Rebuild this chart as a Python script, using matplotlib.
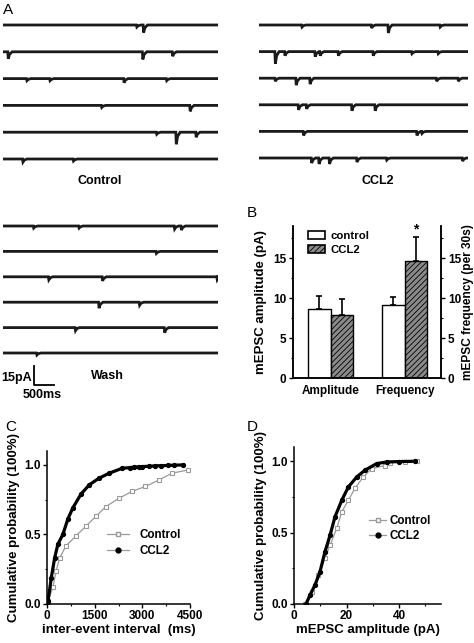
import matplotlib
matplotlib.use("Agg")
import matplotlib.pyplot as plt
from matplotlib.lines import Line2D
from matplotlib.patches import Patch

plt.rcParams['font.family'] = ['Liberation Sans', 'DejaVu Sans']
plt.rcParams['font.weight'] = 'bold'
plt.rcParams['axes.labelweight'] = 'bold'
plt.rcParams['axes.linewidth'] = 1.1
plt.rcParams['hatch.linewidth'] = 0.6

W, H = 474, 643

# ---- panel A: mEPSC events per trace row, (time s, amplitude pA)
trace_len = 5.4
control_events = [
    [(3.35, 1.6), (3.52, 6.0)],
    [(0.12, 5.5), (3.50, 6.0), (4.25, 3.5)],
    [(0.59, 1.6), (1.17, 1.6), (3.03, 3.2), (4.10, 1.6)],
    [(2.47, 1.6), (4.69, 4.7)],
    [(3.85, 1.6), (4.34, 9.5), (4.84, 4.0)],
    [(0.49, 2.4), (1.76, 1.6)],
]
ccl2_events = [
    [(1.10, 1.6), (2.90, 2.4), (3.33, 6.3), (4.67, 1.6)],
    [(0.41, 9.5), (0.66, 3.2), (1.44, 4.0), (1.57, 3.2), (2.04, 3.2), (2.94, 3.2), (3.94, 1.6), (4.62, 1.6)],
    [(0.41, 2.4), (0.95, 5.5), (1.31, 4.7), (4.58, 2.4), (5.14, 2.4)],
    [(1.01, 4.0), (1.22, 3.2), (2.39, 4.7), (2.99, 4.7)],
    [(1.14, 3.2), (4.07, 3.2), (4.20, 1.6)],
    [(1.35, 4.0), (1.54, 4.7), (1.81, 4.7), (2.52, 3.2), (3.29, 1.6), (5.25, 2.4)],
]
wash_events = [
    [(0.76, 1.6), (1.90, 1.6), (4.30, 2.4), (4.47, 3.2)],
    [(3.84, 1.6)],
    [(1.14, 2.4), (2.49, 3.2), (5.37, 2.4)],
    [(2.40, 4.7), (3.42, 2.4)],
    [(1.81, 2.4), (4.05, 4.0)],
    [(0.84, 1.6)],
]

# ---- panel B
groups = ["Amplitude", "Frequency"]
control_mean = [8.6, 9.1]
control_err = [1.65, 1.0]
ccl2_mean = [7.9, 14.6]
ccl2_err = [2.0, 3.0]

# ---- panel C: cumulative inter-event interval (ms)
ctrl_iei_x = [0, 31, 187, 291, 396, 603, 915, 1227, 1538, 1850, 2265, 2680, 3097, 3512, 3926, 4447]
ctrl_iei_y = [0, 0.02, 0.12, 0.24, 0.33, 0.42, 0.49, 0.56, 0.63, 0.70, 0.76, 0.81, 0.845, 0.89, 0.94, 0.964]
ccl2_iei_x = [0, 31, 136, 240, 343, 499, 655, 810, 1070, 1330, 1642, 1954, 2368, 2600, 2750, 2889,
              3000, 3200, 3409, 3600, 3800, 4000, 4291]
ccl2_iei_y = [0, 0.02, 0.19, 0.33, 0.43, 0.50, 0.61, 0.69, 0.79, 0.857, 0.905, 0.94, 0.976, 0.98, 0.984,
              0.986, 0.988, 0.99, 0.993, 0.995, 0.996, 0.998, 1.0]

# ---- panel D: cumulative amplitude (pA)
ctrl_amp_x = [4.2, 6.7, 9.3, 11.8, 13.7, 16.3, 18.2, 20.7, 23.2, 26.4, 29.6, 34.7, 36.6, 42.3, 46.7]
ctrl_amp_y = [0, 0.086, 0.20, 0.32, 0.41, 0.53, 0.646, 0.727, 0.81, 0.89, 0.949, 0.97, 0.99, 0.995, 1.0]
ccl2_amp_x = [4.6, 6.1, 8.0, 9.9, 11.8, 13.7, 15.6, 18.2, 20.7, 23.9, 27.0, 31.5, 35.3, 40.0, 46.0]
ccl2_amp_y = [0, 0.063, 0.133, 0.226, 0.366, 0.48, 0.61, 0.727, 0.82, 0.89, 0.937, 0.984, 0.995, 0.998, 1.0]


fig = plt.figure(figsize=(W / 100, H / 100), dpi=100)


def px_axes(left, top, right, bottom):
    return fig.add_axes([left / W, 1 - bottom / H, (right - left) / W, (bottom - top) / H])


def fig_text(x, y, s, **kw):
    fig.text(x / W, 1 - y / H, s, **kw)


pa_per_px = 15 / 19.0


def trace_block(events, left, right, top_row, spacing, extra=20):
    bottom = top_row + 5 * spacing + extra
    ax = px_axes(left, top_row - 12, right, bottom)
    ax.set_xlim(0, trace_len)
    ax.set_ylim(-(bottom - top_row) * pa_per_px, 12 * pa_per_px)
    ax.axis("off")
    for i, row in enumerate(events):
        base = -i * spacing * pa_per_px
        xs, ys = [0], [base]
        for t, a in row:
            xs += [t, t + 0.012, t + 0.045, t + 0.11]
            ys += [base, base - a, base - a * 0.35, base]
        xs.append(trace_len)
        ys.append(base)
        ax.plot(xs, ys, color="#1a1a1a", lw=2.0, solid_joinstyle="miter")
    return ax


trace_block(control_events, 3, 218, 25, 26.8)
trace_block(ccl2_events, 259, 468, 25, 26.6)
ax_w = trace_block(wash_events, 3, 218, 226, 25.4, extra=60)

# scale bar
x0 = (34 - 3) / 215 * trace_len
y0 = -(385 - 226) * pa_per_px
ax_w.plot([x0, x0, x0 + 0.5], [y0 + 15, y0, y0], color="black", lw=1.3, clip_on=False)

fig_text(3, 10, "A", fontsize=11, fontweight="normal", va="center")
fig_text(100, 181, "Control", fontsize=9, ha="center", va="center")
fig_text(378, 181, "CCL2", fontsize=9, ha="center", va="center")
fig_text(107, 376, "Wash", fontsize=9, ha="center", va="center")
fig_text(32, 378, "15pA", fontsize=9, ha="right", va="center")
fig_text(42, 395, "500ms", fontsize=9, ha="center", va="center")

# ---- panel B
axb = px_axes(293, 226, 441, 378)
gx = [1.67, 4.96]
bw = 1.0
bx_c = [g - bw / 2 for g in gx]
bx_t = [g + bw / 2 for g in gx]
axb.bar(bx_c, control_mean, bw, color="white", edgecolor="black", lw=1.0,
        yerr=[[0, 0], control_err], capsize=2.5, error_kw=dict(elinewidth=1.2, capthick=1.2), label="control")
axb.bar(bx_t, ccl2_mean, bw, color="#8a8a8a", edgecolor="black", lw=1.0, hatch="//////",
        yerr=[[0, 0], ccl2_err], capsize=2.5, error_kw=dict(elinewidth=1.2, capthick=1.2), label="CCL2")
axb.text(bx_t[1], ccl2_mean[1] + ccl2_err[1] + 0.1, "*", ha="center", va="bottom", fontsize=10)
axb.set_xlim(0, 6.58)
axb.set_ylim(0, 19)
axb.set_yticks([0, 5, 10, 15])
axb.set_yticks([2.5, 7.5, 12.5, 17.5], minor=True)
axb.set_xticks(gx)
axb.set_xticklabels(groups, fontsize=8.5)
axb.tick_params(axis="x", length=0, pad=5)
axb.tick_params(axis="y", labelsize=8.5, length=3, width=1, pad=2)
axb.tick_params(axis="y", which="minor", length=1.5, width=0.8)
axb.spines["top"].set_visible(False)
axb.set_ylabel("mEPSC amplitude (pA)", fontsize=9.5, labelpad=4)
axr = axb.twinx()
axr.set_ylim(0, 19)
axr.set_yticks([0, 5, 10, 15])
axr.set_yticks([2.5, 7.5, 12.5, 17.5], minor=True)
axr.tick_params(axis="y", labelsize=8.5, length=3, width=1, pad=2)
axr.tick_params(axis="y", which="minor", length=1.5, width=0.8)
axr.spines["top"].set_visible(False)
axr.set_ylabel("mEPSC frequency (per 30s)", fontsize=8.6)
axr.yaxis.set_label_coords(1.14, 0.5)
hb = [Patch(facecolor="white", edgecolor="black", lw=1.2, label="control"),
      Patch(facecolor="#8a8a8a", edgecolor="black", lw=1.2, hatch="//////", label="CCL2")]
axb.legend(handles=hb, loc="upper left", bbox_to_anchor=(0.1, 0.965), frameon=False, fontsize=8.2,
           handlelength=1.5, handleheight=0.7, handletextpad=0.45, labelspacing=0.35,
           borderpad=0, borderaxespad=0)
fig_text(247, 213, "B", fontsize=11, fontweight="normal", va="center")

# ---- panels C and D
grey = "#9a9a9a"


def cum_axes(ax, cx, cy, tx, ty):
    ax.plot(cx, cy, color=grey, lw=0.9, marker="s", ms=3.2, mfc="white", mec=grey, mew=0.8)
    ax.plot(tx, ty, color="black", lw=2.3, marker="o", ms=2.8, mfc="black", mec="black")
    ax.set_ylim(0, 1.1)
    ax.set_yticks([0, 0.5, 1.0])
    ax.set_yticklabels(["0.0", "0.5", "1.0"])
    ax.set_yticks([0.25, 0.75], minor=True)
    ax.spines["top"].set_visible(False)
    ax.spines["right"].set_visible(False)
    ax.tick_params(labelsize=8.5, length=3, width=1, pad=1.5)
    ax.tick_params(which="minor", length=1.5, width=0.8)
    ax.set_ylabel("Cumulative probability (100%)", fontsize=9.5, labelpad=3)


def cum_legend(ax, anchor, hl, tp, ls):
    hh = [Line2D([], [], color=grey, lw=0.9, marker="s", ms=3.5, mfc="white", mec=grey, label="Control"),
          Line2D([], [], color=grey, lw=0.9, marker="o", ms=3.5, mfc="black", mec="black", label="CCL2")]
    ax.legend(handles=hh, loc="upper left", bbox_to_anchor=anchor, frameon=False, fontsize=8.4,
              handlelength=hl, handletextpad=tp, labelspacing=ls, borderpad=0, borderaxespad=0)


axc = px_axes(47, 451, 190, 604)
cum_axes(axc, ctrl_iei_x, ctrl_iei_y, ccl2_iei_x, ccl2_iei_y)
axc.set_xlim(0, 4500)
axc.set_xticks([0, 1500, 3000, 4500])
axc.set_xticks([750, 2250, 3750], minor=True)
axc.set_xlabel("inter-event interval  (ms)", fontsize=9.5, labelpad=1)
cum_legend(axc, (0.42, 0.49), 1.9, 0.85, 0.35)
fig_text(5, 427, "C", fontsize=11, fontweight="normal", va="center")

axd = px_axes(294, 447, 441, 604)
cum_axes(axd, ctrl_amp_x, ctrl_amp_y, ccl2_amp_x, ccl2_amp_y)
axd.set_xlim(0, 56)
axd.set_xticks([0, 20, 40])
axd.set_xticks([10, 30, 50], minor=True)
axd.set_xlabel("mEPSC amplitude (pA)", fontsize=9.5, labelpad=1)
cum_legend(axd, (0.51, 0.565), 1.5, 0.3, 0.25)
fig_text(247, 427, "D", fontsize=11, fontweight="normal", va="center")

fig.savefig("out.png", dpi=100)
